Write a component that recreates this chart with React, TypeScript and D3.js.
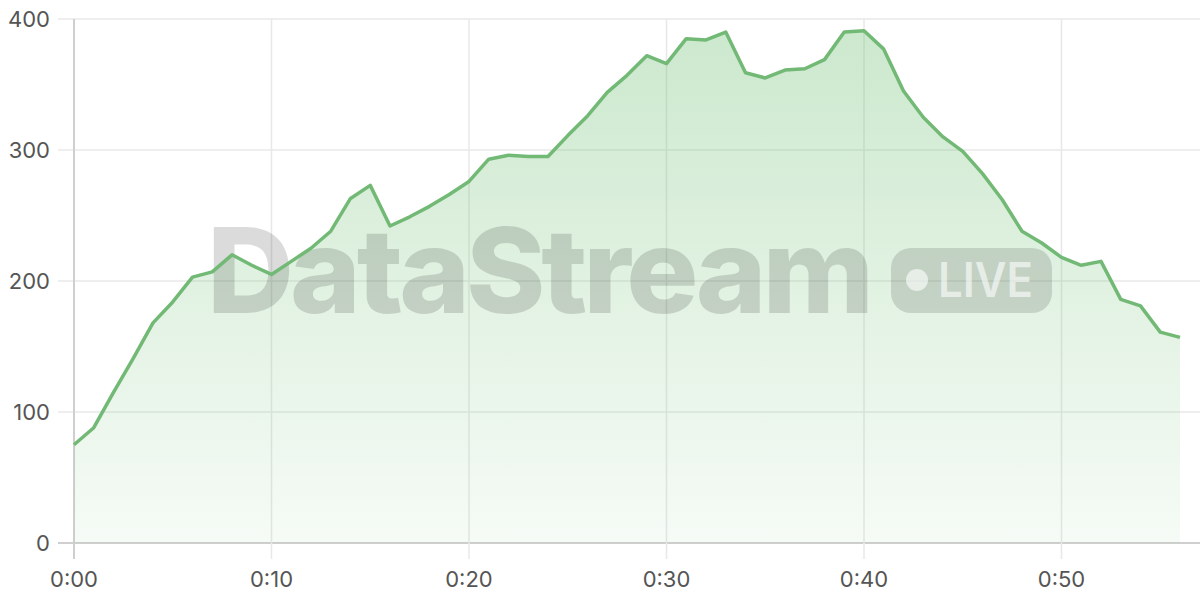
import React, { useEffect, useRef } from 'react';
import * as d3 from 'd3';

// minutes since start
const minutes = d3.range(0, 57);

const viewers = [
  75, 88, 115, 141, 168, 184, 203, 207, 220, 212,
  205, 215, 225, 238, 263, 273, 242, 249, 257, 266,
  276, 293, 296, 295, 295, 311, 326, 344, 357, 372,
  366, 385, 384, 390, 359, 355, 361, 362, 369, 390,
  391, 377, 345, 325, 310, 299, 282, 262, 238, 229,
  218, 212, 215, 186, 181, 161, 157
];

const yTicks = [0, 100, 200, 300, 400];
const xTicks = [0, 10, 20, 30, 40, 50];

const width = 1200;
const height = 600;
const margin = { top: 19, right: 20, bottom: 57, left: 74 };

const fmtTime = (m: number) => `${Math.floor(m / 60)}:${String(m % 60).padStart(2, '0')}`;

const App: React.FC = () => {
  const svgRef = useRef<SVGSVGElement>(null);

  useEffect(() => {
    if (!svgRef.current) return;
    const svg = d3.select(svgRef.current);
    svg.selectAll('*').remove();

    const data = minutes.map((m, i) => ({ m, v: viewers[i] }));

    const x = d3.scaleLinear().domain([0, 56]).range([margin.left, width - margin.right]);
    const y = d3.scaleLinear().domain([0, 400]).range([height - margin.bottom, margin.top]);

    const defs = svg.append('defs');
    const grad = defs
      .append('linearGradient')
      .attr('id', 'areaFill')
      .attr('gradientUnits', 'userSpaceOnUse')
      .attr('x1', 0).attr('x2', 0)
      .attr('y1', y(400)).attr('y2', y(0));
    grad.append('stop').attr('offset', '0%').attr('stop-color', '#66bb6a').attr('stop-opacity', 0.34);
    grad.append('stop').attr('offset', '100%').attr('stop-color', '#66bb6a').attr('stop-opacity', 0.06);

    const font = 'Inter, "Noto Sans", sans-serif';

    // grid
    const grid = svg.append('g');
    grid.selectAll('.hg')
      .data(yTicks)
      .enter()
      .append('line')
      .attr('x1', margin.left - 16)
      .attr('x2', width)
      .attr('y1', d => y(d))
      .attr('y2', d => y(d))
      .attr('stroke', d => (d === 0 ? '#cfcfcf' : '#e8e8e8'))
      .attr('stroke-width', d => (d === 0 ? 2 : 1.5));
    grid.selectAll('.vg')
      .data(xTicks)
      .enter()
      .append('line')
      .attr('x1', d => x(d))
      .attr('x2', d => x(d))
      .attr('y1', margin.top)
      .attr('y2', height - margin.bottom + 16)
      .attr('stroke', d => (d === 0 ? '#cfcfcf' : '#e8e8e8'))
      .attr('stroke-width', d => (d === 0 ? 2 : 1.5));

    // area
    const area = d3.area<{ m: number; v: number }>()
      .x(d => x(d.m))
      .y0(y(0))
      .y1(d => y(d.v));
    svg.append('path').datum(data).attr('d', area).attr('fill', 'url(#areaFill)');

    // watermark
    const wm = svg.append('g');
    wm.append('text')
      .attr('x', 207)
      .attr('y', 313)
      .attr('textLength', 663)
      .attr('lengthAdjust', 'spacingAndGlyphs')
      .style('font-family', font)
      .style('font-weight', 800)
      .style('font-size', '118px')
      .style('letter-spacing', '-4px')
      .attr('fill', 'rgba(0,0,0,0.14)')
      .text('DataStream');
    wm.append('rect')
      .attr('x', 891).attr('y', 248).attr('width', 161).attr('height', 65)
      .attr('rx', 20)
      .attr('fill', 'rgba(0,0,0,0.13)');
    wm.append('circle')
      .attr('cx', 917).attr('cy', 280).attr('r', 11)
      .attr('fill', 'rgba(255,255,255,0.6)');
    wm.append('text')
      .attr('x', 938)
      .attr('y', 297)
      .attr('textLength', 95)
      .attr('lengthAdjust', 'spacingAndGlyphs')
      .style('font-family', font)
      .style('font-weight', 600)
      .style('font-size', '48px')
      .attr('fill', 'rgba(255,255,255,0.6)')
      .text('LIVE');

    // line
    const line = d3.line<{ m: number; v: number }>()
      .x(d => x(d.m))
      .y(d => y(d.v));
    svg.append('path')
      .datum(data)
      .attr('d', line)
      .attr('fill', 'none')
      .attr('stroke', '#72b976')
      .attr('stroke-width', 3.5)
      .attr('stroke-linejoin', 'round');

    // y labels
    svg.selectAll('.yl')
      .data(yTicks)
      .enter()
      .append('text')
      .attr('x', 50)
      .attr('y', d => y(d))
      .attr('dy', '0.35em')
      .attr('text-anchor', 'end')
      .style('font-family', font)
      .style('font-size', '22px')
      .attr('fill', '#555')
      .text(d => d);

    // x labels
    svg.selectAll('.xl')
      .data(xTicks)
      .enter()
      .append('text')
      .attr('x', d => x(d))
      .attr('y', 587)
      .attr('text-anchor', 'middle')
      .style('font-family', font)
      .style('font-size', '22px')
      .attr('fill', '#555')
      .text(d => fmtTime(d));
  }, []);

  return (
    <svg
      ref={svgRef}
      width={width}
      height={height}
      style={{ position: 'absolute', left: 0, top: 0, background: '#fff' }}
    />
  );
};

export default App;
